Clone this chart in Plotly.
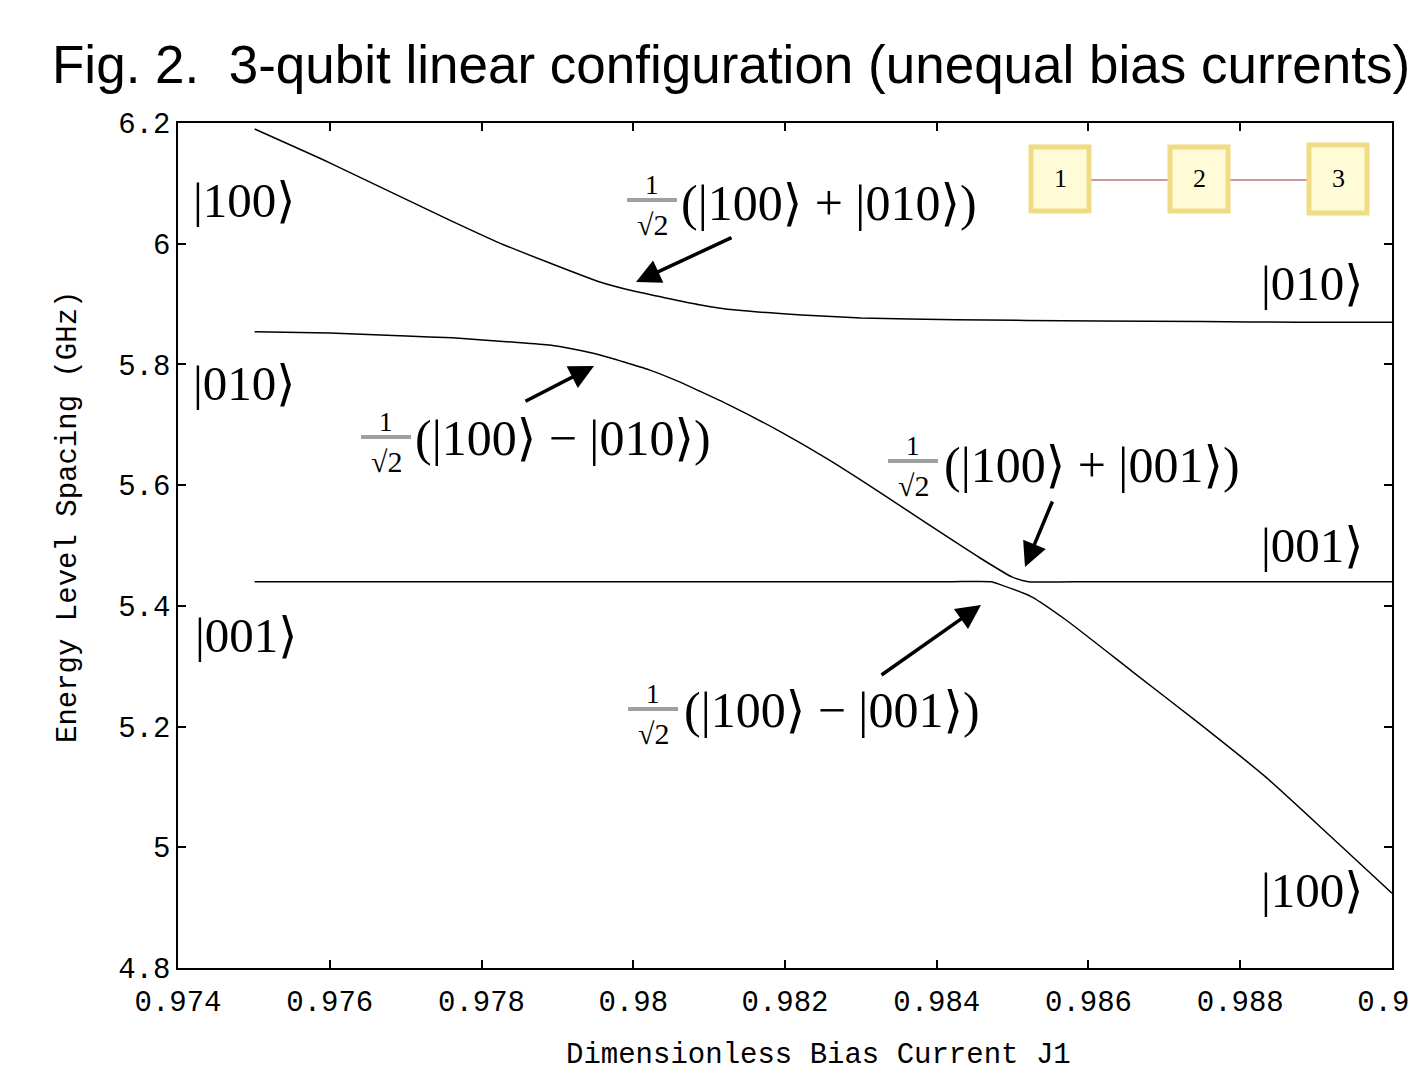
import plotly.graph_objects as go

# ---------------- data ----------------
J_upper = [0.97501, 0.97600, 0.97758, 0.97824, 0.97890, 0.97955, 0.97999, 0.98087,
           0.98136, 0.98222, 0.98300, 0.98425, 0.98613, 0.98750, 0.98875, 0.99000]
E_upper = [6.190, 6.134, 6.039, 6.001, 5.968, 5.937, 5.922, 5.899,
           5.890, 5.882, 5.877, 5.874, 5.872, 5.871, 5.870, 5.870]

J_middle = [0.97501, 0.97600, 0.97701, 0.97762, 0.97841, 0.97890, 0.97922, 0.97955,
            0.98021, 0.98061, 0.98087, 0.98126, 0.98192, 0.98258, 0.98324, 0.98390,
            0.98455, 0.98499, 0.98521, 0.98600, 0.98700, 0.98800, 0.98900, 0.99000]
E_middle = [5.854, 5.852, 5.847, 5.844, 5.837, 5.832, 5.825, 5.816,
            5.791, 5.771, 5.756, 5.733, 5.690, 5.642, 5.589, 5.534,
            5.481, 5.448, 5.440, 5.440, 5.440, 5.440, 5.440, 5.440]

J_lower = [0.97501, 0.97700, 0.97900, 0.98100, 0.98300, 0.98420, 0.98472, 0.98482,
           0.98525, 0.98570, 0.98657, 0.98745, 0.98833, 0.98920, 0.99000]
E_lower = [5.440, 5.440, 5.440, 5.440, 5.440, 5.440, 5.440, 5.436,
           5.415, 5.377, 5.292, 5.206, 5.117, 5.017, 4.924]

x_ticks = [0.974, 0.976, 0.978, 0.980, 0.982, 0.984, 0.986, 0.988, 0.990]
x_ticktext = ["0.974", "0.976", "0.978", "0.98", "0.982", "0.984", "0.986", "0.988", "0.99"]
y_ticks = [4.8, 5.0, 5.2, 5.4, 5.6, 5.8, 6.0, 6.2]
y_ticktext = ["4.8", "5", "5.2", "5.4", "5.6", "5.8", "6", "6.2"]

# ---------------- layout helpers ----------------
W, H = 1411, 1072
ML, MR, MT, MB = 178, 19, 123, 104
XR = [0.974, 0.9900001]
YR = [4.8, 6.2]
PW = W - ML - MR
PH = H - MT - MB


def P(px, py):
    """pixel position -> data coordinates"""
    x = XR[0] + (px - ML) / PW * (XR[1] - XR[0])
    y = YR[1] - (py - MT) / PH * (YR[1] - YR[0])
    return x, y


def PP(px, py):
    """pixel position -> paper coordinates"""
    return (px - ML) / PW, (H - MB - py) / PH


fig = go.Figure()
line_style = dict(color="black", width=1.5, shape="spline", smoothing=0.5)
for xs, ys in [(J_upper, E_upper), (J_middle, E_middle), (J_lower, E_lower)]:
    fig.add_trace(go.Scatter(x=xs, y=ys, mode="lines", line=line_style,
                             showlegend=False, hoverinfo="skip"))

SERIF = "Liberation Serif, DejaVu Serif, serif"
MONO = "Liberation Mono, DejaVu Sans Mono, monospace"
annotations = []
shapes = []

# ket labels
kets = [("|100\u27e9", 191, 200), ("|010\u27e9", 191, 383), ("|001\u27e9", 193, 635),
        ("|010\u27e9", 1259, 283), ("|001\u27e9", 1259, 545), ("|100\u27e9", 1259, 890)]
for t, px, py in kets:
    x, y = P(px, py)
    annotations.append(dict(x=x, y=y, xref="x", yref="y", text=t, showarrow=False,
                            xanchor="left", yanchor="middle",
                            font=dict(family=SERIF, size=49, color="black")))

# superposition labels: (text, fraction centre x, bar y, main-text left x, main centre y)
sups = [("(|100\u27e9 + |010\u27e9)", 652, 200, 679, 203),
        ("(|100\u27e9 \u2212 |010\u27e9)", 386, 437, 413, 438),
        ("(|100\u27e9 + |001\u27e9)", 913, 461, 942, 465),
        ("(|100\u27e9 \u2212 |001\u27e9)", 653, 709, 682, 710)]
for t, fx, by, mx, my in sups:
    x, y = P(fx, by - 15)
    annotations.append(dict(x=x, y=y, xref="x", yref="y", text="1", showarrow=False,
                            xanchor="center", yanchor="middle",
                            font=dict(family=SERIF, size=27, color="black")))
    x, y = P(fx, by + 24)
    annotations.append(dict(x=x, y=y, xref="x", yref="y", text="\u221a2", showarrow=False,
                            xanchor="center", yanchor="middle",
                            font=dict(family=SERIF, size=30, color="black")))
    x0, y0 = P(fx - 25, by)
    x1, _ = P(fx + 25, by)
    shapes.append(dict(type="line", xref="x", yref="y", x0=x0, x1=x1, y0=y0, y1=y0,
                       line=dict(color="#a0a0a0", width=4)))
    x, y = P(mx, my)
    annotations.append(dict(x=x, y=y, xref="x", yref="y", text=t, showarrow=False,
                            xanchor="left", yanchor="middle",
                            font=dict(family=SERIF, size=50, color="black")))

# arrows: (tail px, tail py, head px, head py)
arrows = [(733, 237, 636, 282), (524, 402, 594, 366), (1053, 500, 1025, 567), (880, 676, 981, 605)]
for tx, ty, hx, hy in arrows:
    ax_, ay_ = P(tx, ty)
    x, y = P(hx, hy)
    annotations.append(dict(x=x, y=y, ax=ax_, ay=ay_, xref="x", yref="y", axref="x", ayref="y",
                            text="", showarrow=True, arrowhead=2, arrowsize=1.4,
                            arrowwidth=3.5, arrowcolor="black"))

# inset: three qubits in a row
boxes = [(1029, 145, 1091, 213, "1"), (1168, 145, 1230, 213, "2"), (1307, 143, 1369, 215, "3")]
lx0, ly = PP(1091, 180)
lx1, _ = PP(1307, 180)
shapes.append(dict(type="line", xref="paper", yref="paper", x0=lx0, x1=lx1, y0=ly, y1=ly,
                   line=dict(color="#c89a9a", width=2), layer="below"))
for x0p, y0p, x1p, y1p, lab in boxes:
    a0, b0 = PP(x0p + 2, y1p - 2)
    a1, b1 = PP(x1p - 2, y0p + 2)
    shapes.append(dict(type="rect", xref="paper", yref="paper", x0=a0, x1=a1, y0=b0, y1=b1,
                       fillcolor="#fffbd6", line=dict(color="#f0dc84", width=5), layer="below"))
    cx, cy = PP((x0p + x1p) / 2, (y0p + y1p) / 2)
    annotations.append(dict(x=cx, y=cy, xref="paper", yref="paper", text=lab, showarrow=False,
                            xanchor="center", yanchor="middle",
                            font=dict(family=SERIF, size=26, color="black")))

# figure title
tx_, ty_ = PP(50, 64)
annotations.append(dict(x=tx_, y=ty_, xref="paper", yref="paper",
                        xanchor="left", yanchor="middle", showarrow=False,
                        text="Fig. 2.\u00a0\u00a03-qubit linear configuration (unequal bias currents)",
                        font=dict(family="Liberation Sans, Arial, sans-serif", size=53, color="black")))

# axis titles
xt, yt = PP(818, 1055)
annotations.append(dict(x=xt, y=yt, xref="paper", yref="paper", xanchor="center", yanchor="middle",
                        showarrow=False, text="Dimensionless Bias Current J1",
                        font=dict(family=MONO, size=29, color="black")))
xt, yt = PP(68, 517)
annotations.append(dict(x=xt, y=yt, xref="paper", yref="paper", xanchor="center", yanchor="middle",
                        showarrow=False, text="Energy Level Spacing (GHz)", textangle=-90,
                        font=dict(family=MONO, size=29, color="black")))

axis_common = dict(showline=True, linecolor="black", linewidth=1.5, mirror="ticks",
                   ticks="inside", ticklen=8, tickwidth=1.5, tickcolor="black",
                   showgrid=False, zeroline=False, ticklabeloverflow="allow",
                   tickfont=dict(family=MONO, size=29, color="black"))

fig.update_layout(
    width=W, height=H,
    margin=dict(l=ML, r=MR, t=MT, b=MB, autoexpand=False),
    paper_bgcolor="white", plot_bgcolor="white",
    xaxis=dict(range=XR, tickvals=x_ticks, ticktext=x_ticktext, ticklabelstandoff=6,
               **axis_common),
    yaxis=dict(range=YR, tickvals=y_ticks, ticktext=y_ticktext, **axis_common),
    annotations=annotations,
    shapes=shapes,
    showlegend=False,
)

fig.write_html("out.html")
